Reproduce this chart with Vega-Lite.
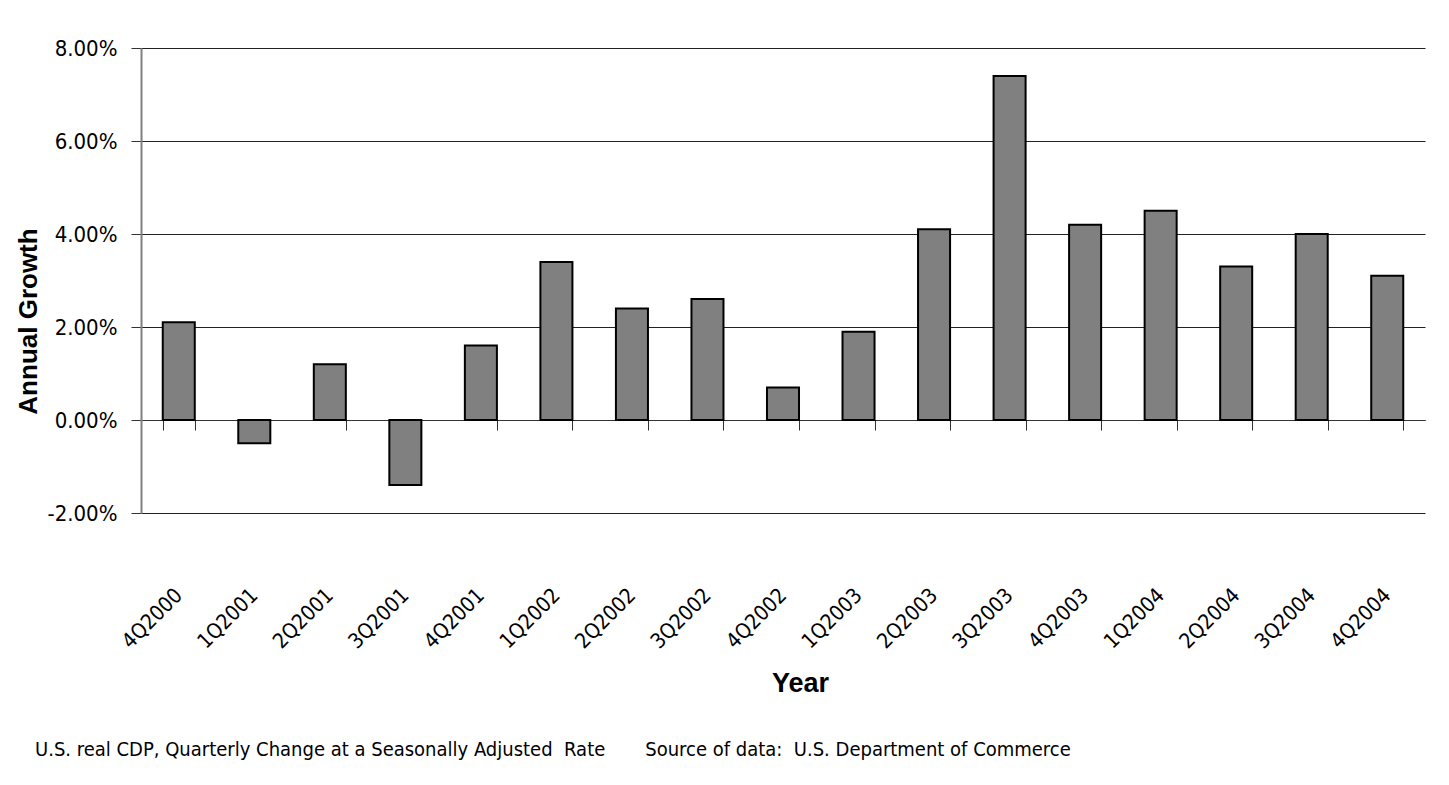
{
  "$schema": "https://vega.github.io/schema/vega-lite/v6.json",
  "width": 1284,
  "height": 465,
  "autosize": {"type": "none"},
  "padding": {"left": 141, "top": 48, "right": 24, "bottom": 272},
  "background": "white",
  "data": {
    "values": [
      {"quarter": "4Q2000", "growth": 2.1},
      {"quarter": "1Q2001", "growth": -0.5},
      {"quarter": "2Q2001", "growth": 1.2},
      {"quarter": "3Q2001", "growth": -1.4},
      {"quarter": "4Q2001", "growth": 1.6},
      {"quarter": "1Q2002", "growth": 3.4},
      {"quarter": "2Q2002", "growth": 2.4},
      {"quarter": "3Q2002", "growth": 2.6},
      {"quarter": "4Q2002", "growth": 0.7},
      {"quarter": "1Q2003", "growth": 1.9},
      {"quarter": "2Q2003", "growth": 4.1},
      {"quarter": "3Q2003", "growth": 7.4},
      {"quarter": "4Q2003", "growth": 4.2},
      {"quarter": "1Q2004", "growth": 4.5},
      {"quarter": "2Q2004", "growth": 3.3},
      {"quarter": "3Q2004", "growth": 4.0},
      {"quarter": "4Q2004", "growth": 3.1}
    ]
  },
  "title": {
    "text": "U.S. real CDP, Quarterly Change at a Seasonally Adjusted\u00a0\u00a0Rate\u00a0\u00a0\u00a0\u00a0\u00a0\u00a0\u00a0Source of data:\u00a0\u00a0U.S. Department of Commerce",
    "orient": "bottom",
    "anchor": "start",
    "frame": "group",
    "dx": -106,
    "offset": 44,
    "font": "DejaVu Sans Condensed, sans-serif",
    "fontSize": 20,
    "fontWeight": "normal",
    "color": "black"
  },
  "mark": {"type": "bar", "fill": "#808080", "stroke": "black", "strokeWidth": 2},
  "encoding": {
    "x": {
      "field": "quarter",
      "type": "nominal",
      "sort": null,
      "scale": {"paddingInner": 0.576, "paddingOuter": 0.288},
      "axis": {
        "title": "Year",
        "titleFont": "Liberation Sans, Arial, sans-serif",
        "titleFontSize": 27,
        "titleFontWeight": "bold",
        "titleColor": "black",
        "titleX": 659,
        "titleY": 263,
        "titleAlign": "center",
        "titleBaseline": "middle",
        "offset": -93,
        "domainColor": "#333333",
        "domainWidth": 1,
        "tickColor": "#333333",
        "tickSize": 10,
        "tickBand": "extent",
        "labelAngle": -45,
        "labelAlign": "right",
        "labelBaseline": "middle",
        "labelPadding": 162,
        "labelFont": "DejaVu Sans Condensed, sans-serif",
        "labelFontSize": 21,
        "labelColor": "black",
        "labelOverlap": false,
        "labelBound": false,
        "grid": false
      }
    },
    "y": {
      "field": "growth",
      "type": "quantitative",
      "scale": {"domain": [-2, 8], "nice": false, "zero": true},
      "axis": {
        "title": "Annual Growth",
        "titleFont": "Liberation Sans, Arial, sans-serif",
        "titleFontSize": 26,
        "titleFontWeight": "bold",
        "titleColor": "black",
        "titleAngle": -90,
        "titleX": -113,
        "titleY": 273,
        "titleAlign": "center",
        "titleBaseline": "middle",
        "values": [-2, 0, 2, 4, 6, 8],
        "labelExpr": "(datum.value < 0 ? '-' : '') + format(abs(datum.value), '.2f') + '%'",
        "labelFont": "DejaVu Sans Condensed, sans-serif",
        "labelFontSize": 22,
        "labelColor": "black",
        "labelPadding": 14,
        "tickSize": 10,
        "tickColor": "#333333",
        "domainColor": "#808080",
        "domainWidth": 2,
        "grid": true,
        "gridColor": "#222222",
        "gridWidth": 1,
        "gridOpacity": 1
      }
    }
  },
  "config": {
    "view": {"stroke": null}
  }
}
